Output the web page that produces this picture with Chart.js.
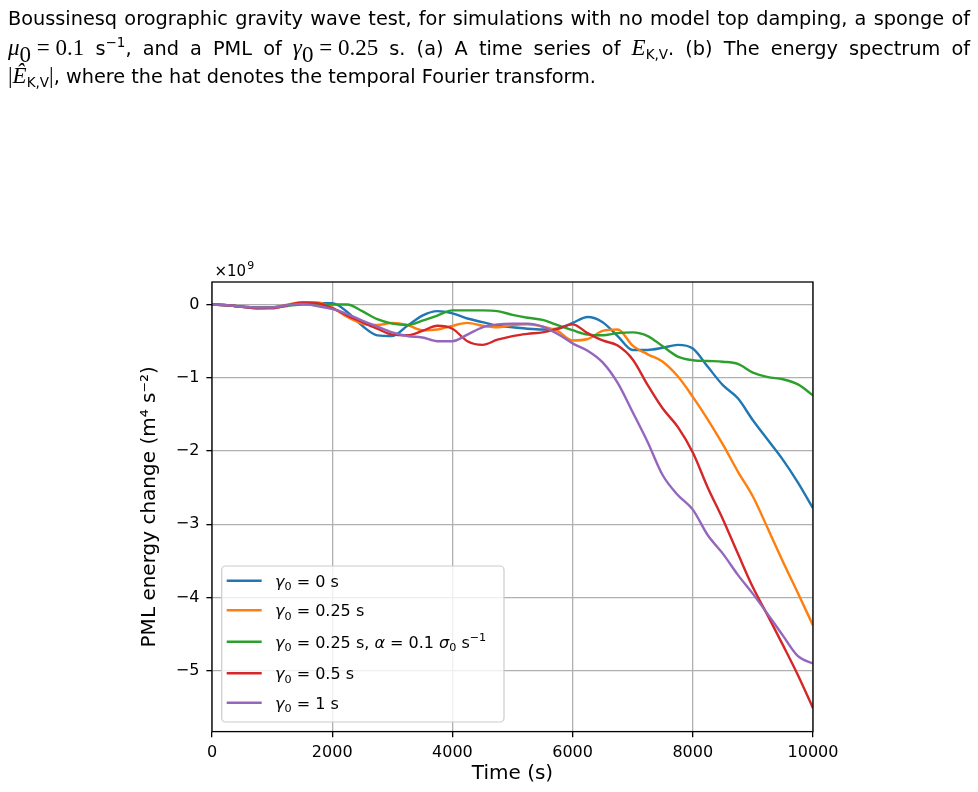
<!DOCTYPE html>
<html>
<head>
<meta charset="utf-8">
<script src="https://cdn.jsdelivr.net/npm/chart.js@4.4.1/dist/chart.umd.min.js"></script>
<style>
html, body { margin: 0; padding: 0; background: #fff; }
body { width: 978px; height: 792px; position: relative; overflow: hidden; }
#caption { position: absolute; left: 8px; top: 5px; width: 962px; font-family: "DejaVu Sans"; font-size: 19.3px; color: #000; z-index: 2; }
#caption .ln { height: 28.7px; line-height: 28.7px; text-align: justify; text-align-last: justify; }
#caption .ln.last { text-align: left; text-align-last: left; }
#caption .m { font-family: "Liberation Serif"; font-size: 23px; }
#caption .eq { margin: 0 0.25em; }
#caption sub, #caption sup { font-size: 0.7em; line-height: 0; position: relative; vertical-align: baseline; }
#caption sub { top: 0.3em; }
#caption sup { top: -0.55em; }
#wrap { position: absolute; left: 0; top: 0; width: 978px; height: 792px; }
</style>
</head>
<body>
<div id="caption">
  <div class="ln">Boussinesq orographic gravity wave test, for simulations with no model top damping, a sponge of</div>
  <div class="ln"><i class="m">μ</i><sub class="m">0</sub><span class="m eq">=</span><span class="m">0.1</span> s<sup>−1</sup>, and a PML of <i class="m">γ</i><sub class="m">0</sub><span class="m eq">=</span><span class="m">0.25</span> s. (a) A time series of <i class="m">E</i><sub>K,V</sub>. (b) The energy spectrum of</div>
  <div class="ln last"><span class="m">|</span><i class="m">E&#770;</i><sub>K,V</sub><span class="m">|</span>, where the hat denotes the temporal Fourier transform.</div>
</div>
<div id="wrap"><canvas id="chart"></canvas></div>
<script>
// time axis (s) and PML energy change (x10^9 m^4 s^-2)
const times = [0, 250, 500, 750, 1000, 1250, 1500, 1750, 2000, 2250, 2500, 2750, 3000, 3250, 3500, 3750, 4000, 4250, 4500, 4750, 5000,
  5250, 5500, 5750, 6000, 6250, 6500, 6750, 7000, 7250, 7500, 7750, 8000, 8250, 8500, 8750, 9000, 9250, 9500, 9750, 10000];

const gamma0 = [0, -0.01, -0.03, -0.05, -0.04, -0.01, 0.01, 0.02, 0.02, -0.10, -0.29, -0.42, -0.43, -0.29, -0.15, -0.09, -0.12, -0.19, -0.24, -0.29, -0.31,
  -0.33, -0.34, -0.33, -0.25, -0.17, -0.24, -0.43, -0.62, -0.62, -0.59, -0.55, -0.60, -0.85, -1.10, -1.28, -1.58, -1.85, -2.12, -2.43, -2.78];
const gamma025 = [0, -0.01, -0.03, -0.04, -0.04, 0.0, 0.03, 0.03, -0.04, -0.17, -0.26, -0.28, -0.25, -0.28, -0.35, -0.34, -0.29, -0.25, -0.29, -0.31, -0.28,
  -0.27, -0.30, -0.36, -0.49, -0.47, -0.36, -0.34, -0.56, -0.68, -0.78, -0.98, -1.26, -1.57, -1.91, -2.28, -2.62, -3.06, -3.51, -3.94, -4.38];
const gamma025Alpha = [0, -0.01, -0.03, -0.04, -0.04, -0.02, 0.0, 0.0, 0.0, 0.0, -0.09, -0.20, -0.26, -0.28, -0.22, -0.15, -0.08, -0.08, -0.08, -0.09, -0.14,
  -0.18, -0.21, -0.28, -0.35, -0.41, -0.42, -0.39, -0.38, -0.43, -0.57, -0.71, -0.76, -0.77, -0.78, -0.81, -0.93, -0.99, -1.02, -1.09, -1.24];
const gamma05 = [0, -0.01, -0.03, -0.05, -0.05, -0.01, 0.03, 0.02, -0.05, -0.15, -0.24, -0.33, -0.41, -0.42, -0.36, -0.29, -0.33, -0.50, -0.55, -0.48, -0.43,
  -0.40, -0.38, -0.33, -0.27, -0.39, -0.49, -0.56, -0.75, -1.10, -1.42, -1.67, -2.02, -2.50, -2.93, -3.40, -3.86, -4.25, -4.65, -5.06, -5.51];
const gamma1 = [0, -0.01, -0.03, -0.04, -0.04, -0.01, 0.01, -0.02, -0.06, -0.13, -0.22, -0.30, -0.38, -0.43, -0.45, -0.50, -0.50, -0.41, -0.31, -0.27, -0.26,
  -0.26, -0.30, -0.40, -0.53, -0.63, -0.79, -1.07, -1.47, -1.88, -2.33, -2.60, -2.80, -3.15, -3.40, -3.69, -3.95, -4.23, -4.52, -4.80, -4.90];

const seriesValues = [gamma0, gamma025, gamma025Alpha, gamma05, gamma1];
const seriesLabels = ['γ_0 = 0 s', 'γ_0 = 0.25 s', 'γ_0 = 0.25 s, α = 0.1 σ_0 s^{−1}', 'γ_0 = 0.5 s', 'γ_0 = 1 s'];
const seriesColors = ['#1f77b4', '#ff7f0e', '#2ca02c', '#d62728', '#9467bd'];
const xTicks = [0, 2000, 4000, 6000, 8000, 10000];
const yTicks = [-5, -4, -3, -2, -1, 0];

const FONT = '"DejaVu Sans"';

// mathtext-ish drawing: _c = subscript char, ^{..} = superscript, greek in italics
function drawRich(ctx, text, x, y, size) {
    const greek = 'γασμ';
    let i = 0;
    while (i < text.length) {
        let ch = text[i], fs = size, dy = 0, style = '';
        if (ch === '_') {
            ch = text[i + 1]; fs = size * 0.7; dy = size * 0.22; i += 2;
        } else if (ch === '^') {
            const end = text.indexOf('}', i);
            ch = text.slice(i + 2, end); fs = size * 0.7; dy = -size * 0.42; i = end + 1;
        } else {
            i += 1;
            if (greek.includes(ch)) style = 'italic ';
        }
        ctx.font = style + fs + 'px ' + FONT;
        ctx.fillText(ch, x, y + dy);
        x += ctx.measureText(ch).width;
    }
}

const framePlugin = {
    id: 'frame',
    afterDraw(chart) {
        const ctx = chart.ctx;
        const a = chart.chartArea;
        ctx.save();
        // spines all round
        ctx.strokeStyle = '#000';
        ctx.lineWidth = 1.3;
        ctx.strokeRect(a.left, a.top, a.right - a.left, a.bottom - a.top);

        // offset text
        ctx.fillStyle = '#000';
        ctx.textBaseline = 'alphabetic';
        ctx.font = '15px ' + FONT;
        ctx.fillText('×10', a.left + 2.5, a.top - 6.5);
        const w = ctx.measureText('×10').width;
        ctx.font = '11px ' + FONT;
        ctx.fillText('9', a.left + 2.5 + w + 1, a.top - 13.5);

        // legend (lower left)
        const bx = 221.7, by = 566, bw = 282.3, bh = 156;
        ctx.beginPath();
        ctx.roundRect(bx, by, bw, bh, 4);
        ctx.fillStyle = 'rgba(255,255,255,0.8)';
        ctx.fill();
        ctx.strokeStyle = '#cccccc';
        ctx.lineWidth = 1.2;
        ctx.stroke();
        const rowY = [580.7, 610.3, 641.7, 673.2, 702.7];
        seriesLabels.forEach((lab, i) => {
            ctx.strokeStyle = seriesColors[i];
            ctx.lineWidth = 2.4;
            ctx.beginPath();
            ctx.moveTo(226.7, rowY[i]);
            ctx.lineTo(261.7, rowY[i]);
            ctx.stroke();
            ctx.fillStyle = '#000';
            drawRich(ctx, lab, 275, rowY[i] + 6, 16);
        });
        ctx.restore();
    }
};

const datasets = seriesValues.map((vals, i) => ({
    label: seriesLabels[i],
    data: vals.map((v, j) => ({ x: times[j], y: v })),
    borderColor: seriesColors[i],
    backgroundColor: seriesColors[i],
    borderWidth: 2.4,
    pointRadius: 0,
    cubicInterpolationMode: 'monotone',
    fill: false,
    order: seriesValues.length - 1 - i
}));

const gridStyle = { color: '#b0b0b0', lineWidth: 1.3, tickColor: '#000', tickLength: 5.6, tickWidth: 1.3 };

new Chart(document.getElementById('chart'), {
    type: 'line',
    data: { datasets: datasets },
    options: {
        responsive: true,
        maintainAspectRatio: false,
        animation: false,
        layout: { padding: { top: 282, right: 165, bottom: 0, left: 0 } },
        plugins: { legend: { display: false }, tooltip: { enabled: false } },
        scales: {
            x: {
                type: 'linear',
                min: 0,
                max: 10000,
                afterBuildTicks: s => { s.ticks = xTicks.map(v => ({ value: v })); },
                afterFit: s => { s.height = 60.4; },
                grid: gridStyle,
                border: { display: false },
                ticks: {
                    color: '#000', font: { family: FONT, size: 16 }, padding: 6, maxRotation: 0, autoSkip: false,
                    callback: v => String(v)
                },
                title: { display: true, text: 'Time (s)', color: '#000', font: { family: FONT, size: 20 }, padding: { top: 0, bottom: 6.7 } }
            },
            y: {
                type: 'linear',
                min: -5.83,
                max: 0.308,
                afterBuildTicks: s => { s.ticks = yTicks.map(v => ({ value: v })); },
                afterFit: s => { s.width = 212; },
                grid: gridStyle,
                border: { display: false },
                ticks: {
                    color: '#000', font: { family: FONT, size: 16 }, padding: 7, autoSkip: false,
                    callback: v => (v < 0 ? '\u2212' + (-v) : String(v))
                },
                title: { display: true, text: 'PML energy change (m⁴ s⁻²)', color: '#000', font: { family: FONT, size: 20 }, padding: { top: 138, bottom: 0 } }
            }
        }
    },
    plugins: [framePlugin]
});
</script>
</body>
</html>
